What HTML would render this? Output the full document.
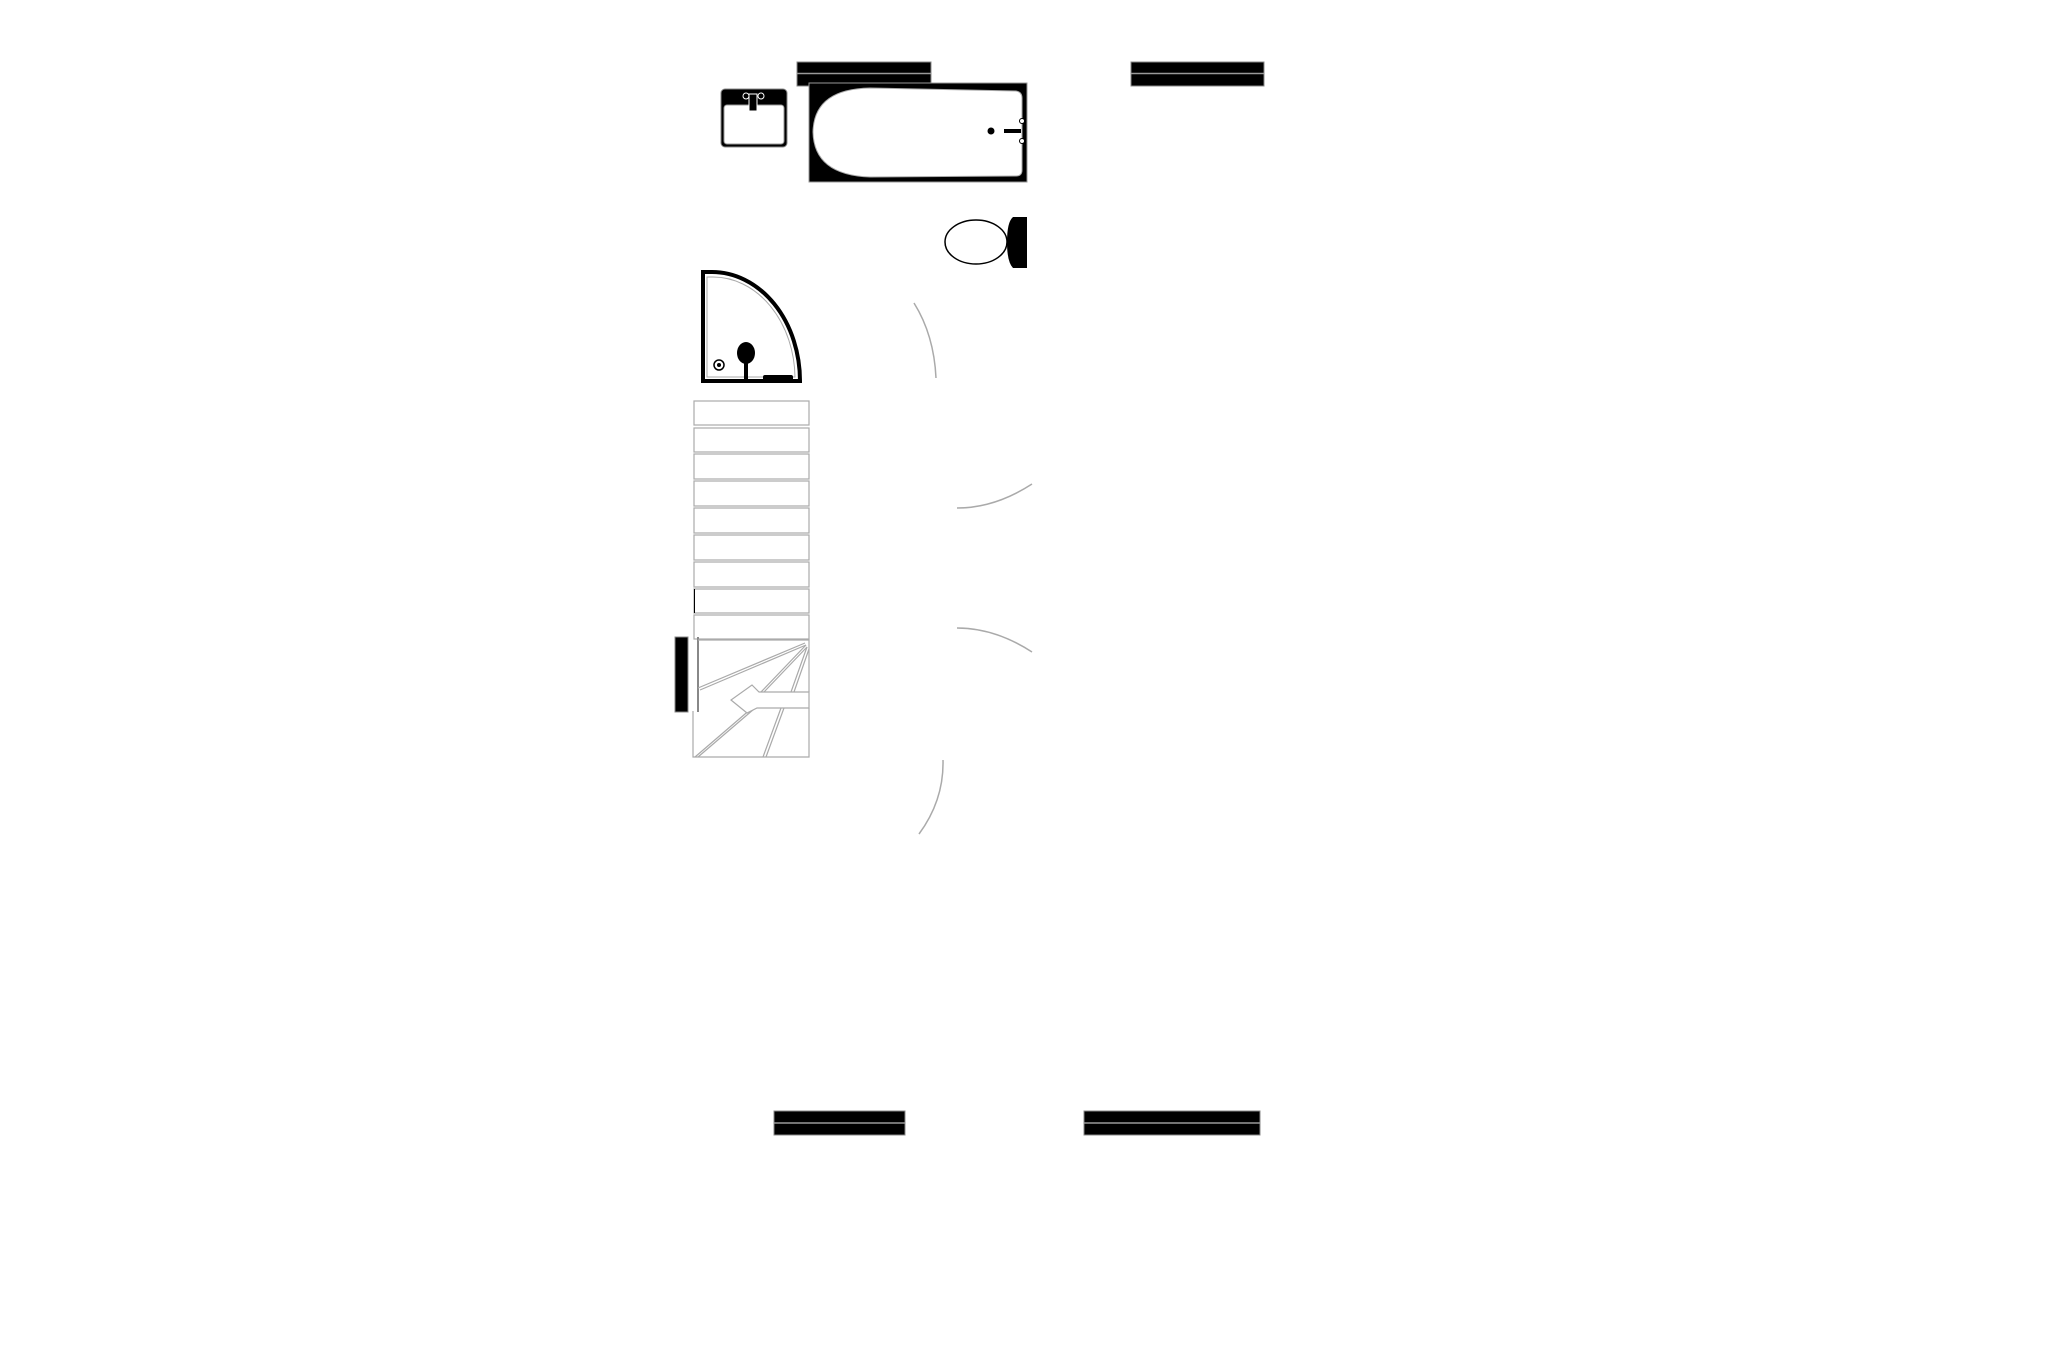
<!DOCTYPE html>
<html><head><meta charset="utf-8"><style>html,body{margin:0;padding:0;background:#fff;}svg{display:block}</style></head>
<body>
<svg width="2057" height="1371" viewBox="0 0 2057 1371" xmlns="http://www.w3.org/2000/svg">
<rect width="2057" height="1371" fill="#fff"/>
<!-- windows -->
<g stroke="#888" stroke-width="1">
<rect x="797" y="62" width="134" height="24" fill="#000"/>
<rect x="1131" y="62" width="133" height="24" fill="#000"/>
<rect x="774" y="1111" width="131" height="24" fill="#000"/>
<rect x="1084" y="1111" width="176" height="24" fill="#000"/>
</g>
<g stroke="#999" stroke-width="1.5">
<line x1="797" y1="73.5" x2="931" y2="73.5"/>
<line x1="1131" y1="73.5" x2="1264" y2="73.5"/>
<line x1="774" y1="1123" x2="905" y2="1123"/>
<line x1="1084" y1="1123" x2="1260" y2="1123"/>
</g>
<!-- sink -->
<rect x="721" y="89" width="66" height="58" rx="4" fill="#000" stroke="#888"/>
<rect x="724" y="105" width="60" height="39" rx="3" fill="#fff" stroke="#999"/>
<rect x="749" y="94" width="8" height="17" fill="#000" stroke="#fff" stroke-width="1"/>
<ellipse cx="746" cy="96" rx="3" ry="3" fill="none" stroke="#fff"/>
<ellipse cx="761" cy="96" rx="3" ry="3" fill="none" stroke="#fff"/>
<!-- bathtub -->
<rect x="809" y="83" width="218" height="99" fill="#000" stroke="#999"/>
<path d="M870 88 L1016 91 Q1022 92 1022 98 L1022 170 Q1022 176 1016 176 L870 177 Q814 175 813 132 Q814 89 870 88 Z" fill="#fff" stroke="#aaa"/>
<circle cx="991" cy="131" r="3.5" fill="#000"/>
<rect x="1004" y="129" width="17" height="4" fill="#000"/>
<circle cx="1022" cy="121" r="2.5" fill="#fff" stroke="#000"/>
<circle cx="1022" cy="141" r="2.5" fill="#fff" stroke="#000"/>
<!-- toilet -->
<ellipse cx="976" cy="242" rx="31" ry="22" fill="#fff" stroke="#000" stroke-width="1.5"/>
<path d="M1013 217 L1027 217 L1027 268 L1013 268 Q1007 262 1007 242 Q1007 222 1013 217 Z" fill="#000"/>
<!-- shower -->
<path d="M703 272 L712 272 A88 109 0 0 1 800 381 L703 381 Z" fill="#fff" stroke="#000" stroke-width="4"/>
<path d="M707 277 L713 277 A82 102 0 0 1 795 377 L707 377 Z" fill="none" stroke="#aaa" stroke-width="1"/>
<circle cx="719" cy="365" r="5" fill="#fff" stroke="#000" stroke-width="1.5"/>
<circle cx="719" cy="365" r="2" fill="#000"/>
<ellipse cx="746" cy="353" rx="9" ry="11" fill="#000"/>
<rect x="744" y="360" width="4" height="22" fill="#000"/>
<rect x="763" y="375" width="30" height="8" rx="2" fill="#000"/>
<!-- door arcs -->
<g fill="none" stroke="#aaa" stroke-width="1.5">
<path d="M914 303 Q934 335 936 378"/>
<path d="M957 508 Q995 508 1032 484"/>
<path d="M957 628 Q995 628 1032 652"/>
<path d="M943 760 Q944 800 919 834"/>
</g>
<!-- stairs -->
<g fill="#fff" stroke="#aaa" stroke-width="1.2">
<rect x="694" y="401" width="115" height="24"/>
<rect x="694" y="428" width="115" height="24"/>
<rect x="694" y="454" width="115" height="25"/>
<rect x="694" y="481" width="115" height="25"/>
<rect x="694" y="508" width="115" height="25"/>
<rect x="694" y="535" width="115" height="25"/>
<rect x="694" y="562" width="115" height="25"/>
<rect x="694" y="589" width="115" height="24"/>
<rect x="694" y="615" width="115" height="24"/>
</g>
<line x1="694.5" y1="589" x2="694.5" y2="613" stroke="#000" stroke-width="1"/>
<rect x="675" y="637" width="13" height="75" fill="#000" stroke="#888"/>
<line x1="698" y1="637" x2="698" y2="712" stroke="#888" stroke-width="2"/>
<g fill="none" stroke="#aaa" stroke-width="1.2">
<path d="M698 640 L809 640 L809 692 M809 708 L809 757 L693 757 L693 711"/>
<path d="M698 688 L805 643 M700 690 L806 645"/>
<path d="M761 692 L806 645 M764 692 L807 647"/>
<path d="M791 692 L807 647 M794 692 L809 649"/>
<path d="M695 757 L752 708 M698 757 L754 709"/>
<path d="M763 757 L781 708 M766 757 L784 708"/>
</g>
<polygon points="809,692 759,692 752,685 731,700 747,713 757,708 809,708" fill="#fff" stroke="#aaa" stroke-width="1.2"/>
</svg>
</body></html>
